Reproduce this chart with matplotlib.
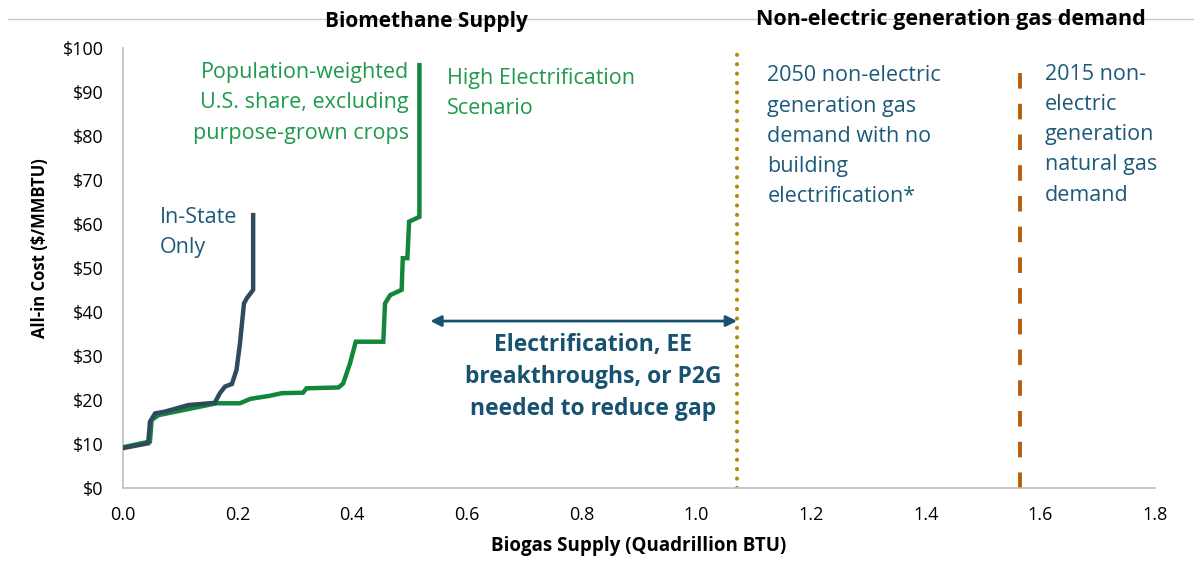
import matplotlib
matplotlib.use("Agg")
import matplotlib.pyplot as plt

plt.rcParams['font.family'] = ['Open Sans', 'DejaVu Sans']

# supply curves (Quadrillion BTU, $/MMBTU)
us_x = [0.0, 0.047, 0.050, 0.062, 0.163, 0.204, 0.222, 0.256, 0.277, 0.314, 0.320,
        0.376, 0.384, 0.396, 0.406, 0.454, 0.457, 0.466, 0.486, 0.488, 0.496,
        0.499, 0.517, 0.517]
us_y = [9.2, 10.5, 15.4, 16.5, 19.2, 19.2, 20.2, 20.9, 21.5, 21.6, 22.6,
        22.8, 23.7, 28.3, 33.2, 33.2, 41.9, 43.8, 45.0, 52.2, 52.2,
        60.5, 61.6, 96.1]

state_x = [0.0, 0.044, 0.047, 0.056, 0.073, 0.114, 0.160, 0.169, 0.178, 0.190,
           0.198, 0.204, 0.211, 0.216, 0.227, 0.227]
state_y = [9.0, 10.1, 15.0, 16.9, 17.3, 18.8, 19.3, 21.5, 23.0, 23.6,
           26.8, 32.8, 41.9, 43.1, 45.0, 62.0]

demand_2050 = 1.071
demand_2015 = 1.564

xticks = [0.0, 0.2, 0.4, 0.6, 0.8, 1.0, 1.2, 1.4, 1.6, 1.8]
yticks = [0, 10, 20, 30, 40, 50, 60, 70, 80, 90, 100]

green = '#12873a'
green_txt = '#1f9a4c'
slate = '#2d4b5d'
blue_txt = '#1d5a7a'
arrow_c = '#175370'

fig = plt.figure(figsize=(11.94, 5.88), dpi=100)
ax = fig.add_axes([123/1194, 1-487.7/588, (1155-123)/1194, (487.7-48)/588])

ax.plot(us_x, us_y, color=green, lw=3.2, solid_joinstyle='miter', zorder=3)
ax.plot(state_x, state_y, color=slate, lw=3.2, solid_joinstyle='miter', zorder=4)

ax.plot([demand_2050, demand_2050], [0, 99], color='#b8870e', lw=3.0,
        ls=(0, (0.01, 2.25)), dash_capstyle='round', zorder=2)
ax.plot([demand_2015, demand_2015], [0, 96.6], color='#b85d0c', lw=2.8,
        ls=(0, (4.0, 3.9)), dash_capstyle='butt', zorder=2)

ax.set_xlim(0, 1.8)
ax.set_ylim(0, 100)
ax.set_xticks(xticks)
ax.set_xticklabels([f'{v:.1f}' for v in xticks])
ax.set_yticks(yticks)
ax.set_yticklabels([f'${v}' for v in yticks])
ax.tick_params(length=0, labelsize=13, colors='black')
ax.tick_params(axis='x', pad=13)
ax.tick_params(axis='y', pad=14)
for s in ['top', 'right']:
    ax.spines[s].set_visible(False)
for s in ['left', 'bottom']:
    ax.spines[s].set_color('#bfbfbf')
    ax.spines[s].set_linewidth(1.2)

ax.set_xlabel('Biogas Supply (Quadrillion BTU)', fontsize=13.5, fontweight='bold', labelpad=9)
ax.set_ylabel('All-in Cost ($/MMBTU)', fontsize=12, fontweight='bold')
ax.yaxis.set_label_coords(-0.072, 0.545)

# annotations
fs = 15.5
ls = 1.58
ax.text(0.499, 87.5, 'Population-weighted\nU.S. share, excluding\npurpose-grown crops',
        color=green_txt, fontsize=fs, ha='right', va='center', linespacing=ls)
ax.text(0.565, 89.6, 'High Electrification\nScenario',
        color=green_txt, fontsize=fs, ha='left', va='center', linespacing=ls)
ax.text(0.064, 58.0, 'In-State\nOnly',
        color=blue_txt, fontsize=fs, ha='left', va='center', linespacing=ls)
ax.text(1.124, 79.9, '2050 non-electric\ngeneration gas\ndemand with no\nbuilding\nelectrification*',
        color=blue_txt, fontsize=fs, ha='left', va='center', linespacing=ls)
ax.text(1.608, 80.3, '2015 non-\nelectric\ngeneration\nnatural gas\ndemand',
        color=blue_txt, fontsize=fs, ha='left', va='center', linespacing=ls)

ax.annotate('', xy=(1.071, 37.9), xytext=(0.536, 37.9),
            arrowprops=dict(arrowstyle='<|-|>', color=arrow_c, lw=2.0,
                            mutation_scale=16, shrinkA=0, shrinkB=0))
ax.text(0.820, 25.1, 'Electrification, EE\nbreakthroughs, or P2G\nneeded to reduce gap',
        color=arrow_c, fontsize=16.5, fontweight='bold', ha='center', va='center',
        linespacing=1.45)

# headers with a thin rule
fig.add_artist(plt.Line2D([8/1194, 1], [1-19/588, 1-19/588], color='#c8c8c8', lw=1.0))
fig.text(426/1194, 1-21/588, 'Biomethane Supply', fontsize=15, fontweight='bold',
         ha='center', va='center')
fig.text(951/1194, 1-19/588, 'Non-electric generation gas demand', fontsize=15.5,
         fontweight='bold', ha='center', va='center')

fig.savefig('out.png', dpi=100)
